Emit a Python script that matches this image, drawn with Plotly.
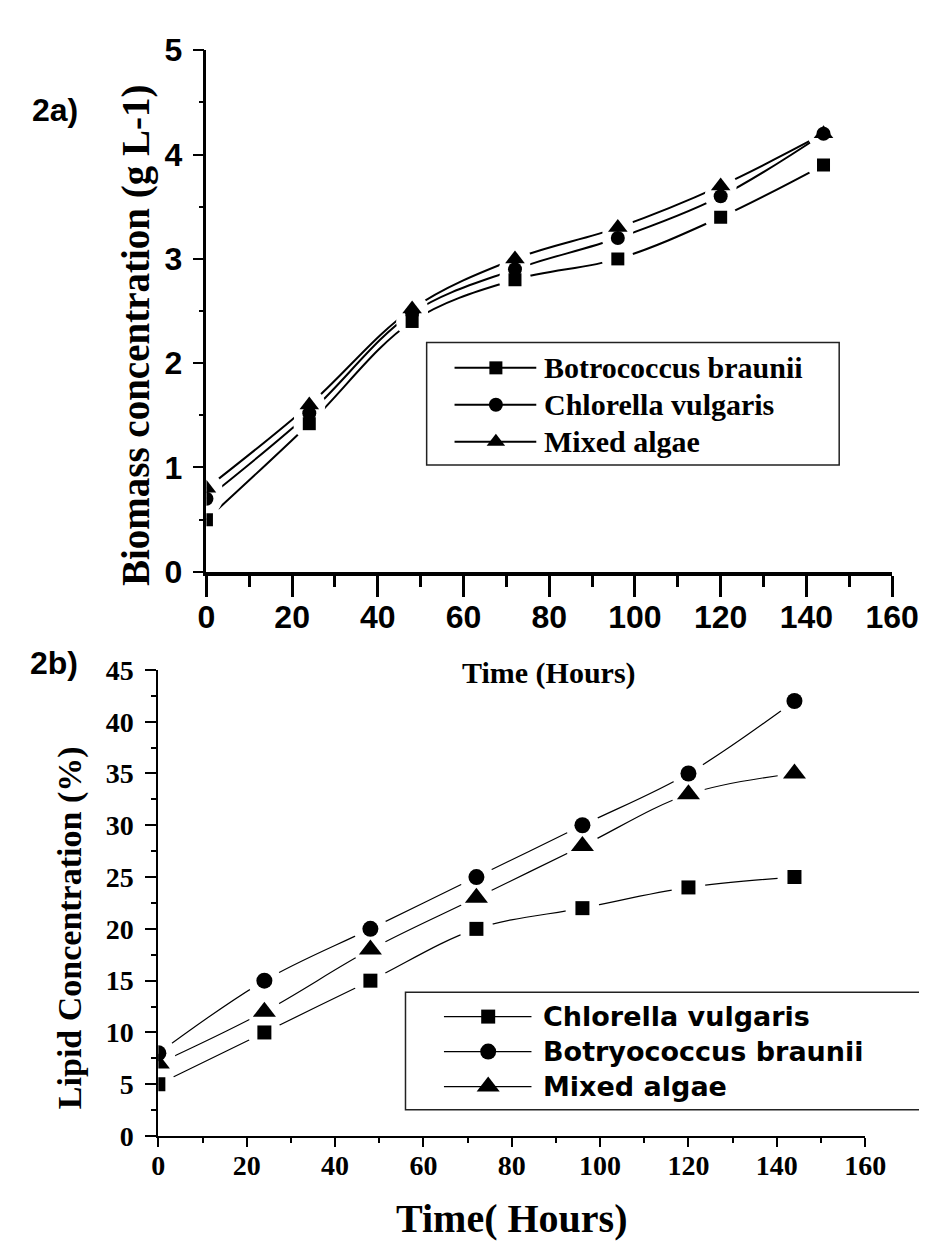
import plotly.graph_objects as go

W, H = 938, 1249

# ---------------- data ----------------
hours = [0, 24, 48, 72, 96, 120, 144]

# Figure 2a: biomass concentration (g L-1)
bio_names = ["Botrococcus braunii", "Chlorella vulgaris", "Mixed algae"]
bio_botryo = [0.5, 1.42, 2.4, 2.8, 3.0, 3.4, 3.9]
bio_chlorella = [0.7, 1.52, 2.48, 2.9, 3.2, 3.6, 4.2]
bio_mixed = [0.8, 1.6, 2.52, 3.0, 3.3, 3.7, 4.2]

# Figure 2b: lipid concentration (%)
lip_names = ["Chlorella vulgaris", "Botryococcus braunii", "Mixed algae"]
lip_chlorella = [5, 10, 15, 20, 22, 24, 25]
lip_botryo = [8, 15, 20, 25, 30, 35, 42]
lip_mixed = [7, 12, 18, 23, 28, 33, 35]

x_ticks = [0, 20, 40, 60, 80, 100, 120, 140, 160]
bio_ticks = [0, 1, 2, 3, 4, 5]
lip_ticks = [0, 5, 10, 15, 20, 25, 30, 35, 40, 45]

symbols = ["square", "circle", "triangle-up"]

# ---------------- helpers ----------------
def fx(p):
    return p / W

def fy(p):
    return 1 - p / H

SANS = "Liberation Sans Narrow, Arial Narrow, Liberation Sans, Arial"
SERIF = "Liberation Serif, Times New Roman, serif"

fig = go.Figure()

def add_series(xa, ya, series, lw, halo, msizes):
    for vals in series:
        fig.add_trace(go.Scatter(x=hours, y=vals, mode="lines", xaxis=xa, yaxis=ya,
                                 line=dict(color="black", width=lw, shape="spline", smoothing=1),
                                 showlegend=False, hoverinfo="skip"))
    for vals in series:
        fig.add_trace(go.Scatter(x=hours, y=vals, mode="markers", xaxis=xa, yaxis=ya,
                                 marker=dict(symbol="circle", size=halo, color="white"),
                                 showlegend=False, hoverinfo="skip"))
    for vals, sym, ms in zip(series, symbols, msizes):
        fig.add_trace(go.Scatter(x=hours, y=vals, mode="markers", xaxis=xa, yaxis=ya,
                                 marker=dict(symbol=sym, size=ms, color="black"),
                                 showlegend=False))

add_series("x", "y", [bio_botryo, bio_chlorella, bio_mixed], 2, 32, [13, 14, 17])
add_series("x2", "y2", [lip_chlorella, lip_botryo, lip_mixed], 1.2, 34, [14, 16, 20])

# ---------------- manual legends (pixel overlay) ----------------
shapes = []
annotations = []

def legend(box, line_x, mark_x, text_x, ys, names, msizes, font, lw):
    x0, y0, x1, y1 = box
    shapes.append(dict(type="rect", xref="x3", yref="y3", x0=x0, y0=y0, x1=x1, y1=y1,
                       line=dict(color="#222", width=1.5), fillcolor="rgba(0,0,0,0)", layer="above"))
    for yy, name in zip(ys, names):
        shapes.append(dict(type="line", xref="x3", yref="y3", x0=line_x[0], x1=line_x[1],
                           y0=yy, y1=yy, line=dict(color="black", width=lw)))
        annotations.append(dict(xref="x3", yref="y3", x=text_x, y=yy, text=name, showarrow=False,
                                xanchor="left", yanchor="middle", font=font))
    for yy, sym, ms in zip(ys, symbols, msizes):
        fig.add_trace(go.Scatter(x=[mark_x], y=[yy], mode="markers", xaxis="x3", yaxis="y3",
                                 marker=dict(symbol=sym, size=ms, color="black"),
                                 showlegend=False, hoverinfo="skip"))

legend((426, 326, 855, 452), (455, 540), 498, 546, [352, 390, 428], bio_names,
       [13, 14, 16], dict(family=SERIF, size=30, color="black", weight="bold"), 2)
legend((404, 995, 945, 1116), (444, 535), 490, 545, [1020, 1056, 1092], lip_names,
       [14, 16, 20], dict(family="DejaVu Sans, Liberation Sans", size=27, color="black", weight="bold"), 1.2)

# titles and panel labels
def text(x, y, s, font, angle=0):
    annotations.append(dict(xref="x3", yref="y3", x=x, y=y, text=s, showarrow=False,
                            xanchor="center", yanchor="middle", textangle=angle, font=font))

text(40, 87, "2a)", dict(family="Liberation Sans, Arial", size=32, color="black", weight="bold"))
text(38, 656, "2b)", dict(family="Liberation Sans, Arial", size=32, color="black", weight="bold"))
text(124, 318, "Biomass concentration (g L-1)", dict(family=SERIF, size=39, color="black", weight="bold"), -90)
text(553, 666, "Time (Hours)", dict(family=SERIF, size=30, color="black", weight="bold"))
text(55, 928, "Lipid Concentration (%)", dict(family=SERIF, size=34, color="black", weight="bold"), -90)
text(514, 1228, "Time( Hours)", dict(family=SERIF, size=40, color="black", weight="bold"))

# ---------------- axes ----------------
top_font = dict(family=SANS, size=32, color="black", weight="bold")
bot_font = dict(family=SERIF, size=28, color="black", weight="bold")

common = dict(showgrid=False, zeroline=False, showline=True, linecolor="black",
              ticks="outside", tickcolor="black", fixedrange=True)

fig.update_layout(
    width=W, height=H, autosize=False,
    margin=dict(l=0, r=0, t=0, b=0),
    paper_bgcolor="white", plot_bgcolor="rgba(0,0,0,0)",
    showlegend=False,
    xaxis=dict(domain=[fx(197), fx(910)], range=[0, 160], anchor="y",
               tickvals=x_ticks, ticktext=[str(v) for v in x_ticks],
               linewidth=3.5, ticklen=21, tickwidth=3, tickfont=top_font, ticklabelstandoff=-7,
               minor=dict(dtick=10, tick0=0, ticklen=11, tickwidth=3, ticks="outside", tickcolor="black"),
               **common),
    yaxis=dict(domain=[fy(562), fy(25)], range=[0, 5], anchor="x",
               tickvals=bio_ticks, ticktext=[str(v) for v in bio_ticks],
               linewidth=2.5, ticklen=11, tickwidth=2, tickfont=top_font, ticklabelstandoff=4,
               minor=dict(dtick=0.5, tick0=0, ticklen=5, tickwidth=2, ticks="outside", tickcolor="black"),
               **common),
    xaxis2=dict(domain=[fx(147), fx(882)], range=[0, 160], anchor="y2",
                tickvals=x_ticks, ticktext=[str(v) for v in x_ticks],
                linewidth=2, ticklen=9, tickwidth=2, tickfont=bot_font, ticklabelstandoff=-6,
                minor=dict(dtick=10, tick0=0, ticklen=5, tickwidth=2, ticks="outside", tickcolor="black"),
                **common),
    yaxis2=dict(domain=[fy(1143), fy(663)], range=[0, 45], anchor="x2",
                tickvals=lip_ticks, ticktext=[str(v) for v in lip_ticks],
                linewidth=2, ticklen=11, tickwidth=2, tickfont=bot_font, ticklabelstandoff=6,
                minor=dict(dtick=2.5, tick0=0, ticklen=5, tickwidth=2, ticks="outside", tickcolor="black"),
                **common),
    xaxis3=dict(domain=[0, 1], range=[0, W], anchor="y3", visible=False, fixedrange=True),
    yaxis3=dict(domain=[0, 1], range=[H, 0], anchor="x3", visible=False, fixedrange=True),
    shapes=shapes,
    annotations=annotations,
)

fig.write_html("out.html")
